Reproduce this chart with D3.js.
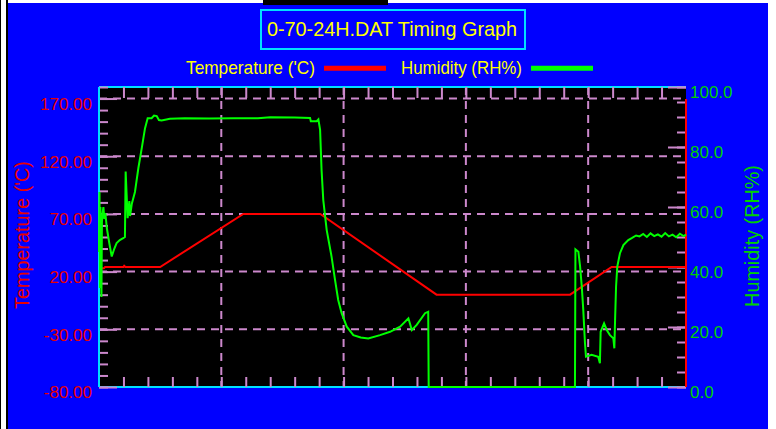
<!DOCTYPE html>
<html>
<head>
<meta charset="utf-8">
<script src="https://cdn.jsdelivr.net/npm/d3@7"></script>
<style>
	body { margin: 0; background: #fff; }
	svg { display: block; }
	text { font-family: "Liberation Sans", Arial, sans-serif; }
</style>
</head>
<body>
<div id="chart"></div>
<script>

// temperature ('C), time in hours
var tempTime  = [0, 0.2, 0.25, 1.0, 1.03, 1.08, 2.5, 5.9, 9.05, 13.8, 19.26, 20.96, 24];
var tempValue = [23, 23, 24, 24, 25, 24, 24, 70, 70, 0, 0, 24, 24];

// humidity (RH%)
var humTime = [0, 0.02, 0.04, 0.06, 0.08, 0.10, 0.12, 0.15, 0.18, 0.22, 0.26, 0.32, 0.42, 0.52, 0.62, 0.72, 0.85, 0.99,
	1.06, 1.09, 1.13, 1.17, 1.24, 1.27, 1.34, 1.47, 1.61, 1.75, 1.88, 1.99, 2.15, 2.25, 2.36, 2.45, 2.56, 2.9, 3.5,
	4.5, 5.5, 6.5, 7.0, 8.0, 8.63, 8.66, 8.9, 8.97, 9.04, 9.1, 9.17, 9.31, 9.51, 9.65, 9.78, 9.92, 10.13, 10.4, 10.7,
	11.01, 11.49, 11.9, 12.31, 12.65, 12.79, 12.99, 13.33, 13.46, 13.48, 19.46, 19.48, 19.6, 19.67, 19.74, 19.8,
	19.87, 19.91, 20.14, 20.41, 20.48, 20.51, 20.65, 20.76, 20.89, 21.03, 21.07, 21.1, 21.14, 21.19, 21.3, 21.44,
	21.64, 21.78, 21.96, 22.1, 22.25, 22.4, 22.55, 22.7, 22.85, 23.0, 23.15, 23.3, 23.45, 23.6, 23.75, 23.9, 24];
var humValue = [45, 65, 33, 60, 38, 30, 55, 58, 60, 56, 58, 53, 48, 43.5, 46, 48, 49, 49.6,
	50, 71.8, 64, 56.3, 62, 57, 61, 65, 73, 79.7, 86.2, 89.6, 89.6, 90.5, 90.3, 89, 88.8, 89.4, 89.6,
	89.5, 89.6, 89.6, 89.9, 89.8, 89.7, 88.6, 88.6, 89.2, 85.7, 72.3, 62.3, 52.3, 43.4, 35.7, 29, 24.6, 20.1, 17.3, 16.5,
	16.2, 17.3, 18.4, 20.1, 22.9, 19, 20.7, 24.6, 25.1, 0, 0, 45.9, 45.1, 40.1, 33.4, 25.7,
	14.6, 10.1, 10.7, 10.1, 7.9, 18.4, 21.2, 19, 17.3, 16.2, 12.9, 22.3, 33.4, 40.1, 44.6, 47.3,
	49, 49.6, 50.5, 50.2, 51, 50, 51.2, 50.3, 50.9, 50.1, 51.3, 50.2, 50.8, 49.9, 51.1, 50.3, 50.8];

// tick labels
var tempTicks = [-80, -30, 20, 70, 120, 170];
var humTicks = [0, 20, 40, 60, 80, 100];
var hourTicks = [5, 10, 15, 20];

// magic numbers
var width = 776, height = 429;
var plot = {left: 99, right: 686, top: 87, bottom: 387};

var pink = "#cc88cc", cyan = "#00e0ff", yellow = "#ffff00";

var svg = d3.select("#chart").append("svg")
		.attr("width", width)
		.attr("height", height);

// window frame
svg.append("rect").attr("x", 0).attr("y", 0).attr("width", 1).attr("height", height).attr("fill", "#000");
svg.append("rect").attr("x", 6).attr("y", 0).attr("width", 2).attr("height", height).attr("fill", "#000");
svg.append("rect")
		.attr("x", 8).attr("y", 3)
		.attr("width", 760).attr("height", height - 3)
		.attr("fill", "#0000ff");
svg.append("rect").attr("x", 263).attr("y", 0).attr("width", 125).attr("height", 5).attr("fill", "#000");

// scales
var x = d3.scaleLinear().domain([0, 24]).range([plot.left, plot.right]);
var yTemp = d3.scaleLinear().domain([-80, 180]).range([plot.bottom, plot.top]);
var yHum = d3.scaleLinear().domain([0, 100]).range([plot.bottom, plot.top]);

// plot area
svg.append("rect")
		.attr("x", plot.left).attr("y", plot.top)
		.attr("width", plot.right - plot.left)
		.attr("height", plot.bottom - plot.top)
		.attr("fill", "#000");

// dashed grid
svg.selectAll(".hgrid")
		.data(tempTicks.filter(function(d){ return d > -80; }))
	.enter().append("line")
		.attr("class", "hgrid")
		.attr("x1", plot.left).attr("x2", plot.right)
		.attr("y1", function(d){ return yTemp(d); })
		.attr("y2", function(d){ return yTemp(d); })
		.attr("stroke", pink).attr("stroke-width", 2)
		.attr("stroke-dasharray", "8,6");

svg.selectAll(".vgrid")
		.data(hourTicks)
	.enter().append("line")
		.attr("class", "vgrid")
		.attr("x1", function(d){ return x(d); })
		.attr("x2", function(d){ return x(d); })
		.attr("y1", plot.top).attr("y2", plot.bottom)
		.attr("stroke", pink).attr("stroke-width", 2)
		.attr("stroke-dasharray", "8,6");

// top and bottom spines
svg.append("line")
		.attr("x1", plot.left).attr("x2", plot.right)
		.attr("y1", plot.top).attr("y2", plot.top)
		.attr("stroke", cyan).attr("stroke-width", 2);
svg.append("line")
		.attr("x1", plot.left).attr("x2", plot.right)
		.attr("y1", plot.bottom).attr("y2", plot.bottom)
		.attr("stroke", cyan).attr("stroke-width", 2);

// tick marks, all pointing inward
function ticks(axis, tx, ty){
	var g = svg.append("g")
			.attr("transform", "translate(" + tx + "," + ty + ")")
			.attr("color", pink)
			.call(axis);
	g.select(".domain").remove();
	g.selectAll("line").attr("stroke-width", 2);
	return g;
}

ticks(d3.axisRight(yTemp).tickValues(d3.range(-80, 181, 10)).tickSize(9).tickFormat(""), plot.left, 0);
ticks(d3.axisRight(yTemp).tickValues(tempTicks).tickSize(18).tickFormat(""), plot.left, 0);
ticks(d3.axisLeft(yHum).tickValues(d3.range(0, 101, 5)).tickSize(9).tickFormat(""), plot.right, 0);
ticks(d3.axisLeft(yHum).tickValues(humTicks).tickSize(18).tickFormat(""), plot.right, 0);
ticks(d3.axisTop(x).tickValues(d3.range(1, 24)).tickSize(10).tickFormat(""), 0, plot.bottom);
ticks(d3.axisBottom(x).tickValues(d3.range(1, 24)).tickSize(11).tickFormat(""), 0, plot.top);

// left and right spines
svg.append("line")
		.attr("x1", plot.left).attr("x2", plot.left)
		.attr("y1", plot.top).attr("y2", plot.bottom)
		.attr("stroke", cyan).attr("stroke-width", 2);
svg.append("line")
		.attr("x1", plot.right).attr("x2", plot.right)
		.attr("y1", plot.top + 12).attr("y2", plot.bottom)
		.attr("stroke", "#ff0000").attr("stroke-width", 2);

// tick labels
var leftLabels = svg.append("g")
		.attr("transform", "translate(" + plot.left + ",5.5)")
		.call(d3.axisLeft(yTemp).tickValues(tempTicks).tickSize(0).tickPadding(7)
			.tickFormat(function(d){ return d.toFixed(2); }));
leftLabels.select(".domain").remove();
leftLabels.selectAll("text")
		.attr("fill", "#e80000")
		.style("font-size", "17px")
		.style("font-family", "'Liberation Sans', Arial, sans-serif");

var rightLabels = svg.append("g")
		.attr("transform", "translate(" + plot.right + ",5.5)")
		.call(d3.axisRight(yHum).tickValues(humTicks).tickSize(0).tickPadding(4)
			.tickFormat(function(d){ return d.toFixed(1); }));
rightLabels.select(".domain").remove();
rightLabels.selectAll("text")
		.attr("fill", "#00d000")
		.style("font-size", "17px")
		.style("font-family", "'Liberation Sans', Arial, sans-serif");

// axis titles
svg.append("text")
		.attr("transform", "translate(29,235) rotate(-90)")
		.attr("text-anchor", "middle")
		.attr("fill", "#e80000")
		.style("font-size", "19.8px")
		.text("Temperature ('C)");

svg.append("text")
		.attr("transform", "translate(759,236) rotate(-90)")
		.attr("text-anchor", "middle")
		.attr("fill", "#00d000")
		.style("font-size", "19.8px")
		.text("Humidity (RH%)");

// title
svg.append("rect")
		.attr("x", 261).attr("y", 10)
		.attr("width", 264).attr("height", 39)
		.attr("fill", "none")
		.attr("stroke", cyan).attr("stroke-width", 2);
svg.append("text")
		.attr("x", 267).attr("y", 36)
		.attr("fill", yellow)
		.attr("textLength", 250)
		.attr("lengthAdjust", "spacingAndGlyphs")
		.style("font-size", "21px")
		.text("0-70-24H.DAT Timing Graph");

// legend
var legend = [
	{name: "Temperature ('C)", color: "#ff0000", x: 186, w: 129, line: 324},
	{name: "Humidity (RH%)", color: "#00ff00", x: 401, w: 121, line: 531}
];

svg.selectAll(".legend-text")
		.data(legend)
	.enter().append("text")
		.attr("class", "legend-text")
		.attr("x", function(d){ return d.x; })
		.attr("y", 73.5)
		.attr("fill", yellow)
		.attr("textLength", function(d){ return d.w; })
		.attr("lengthAdjust", "spacingAndGlyphs")
		.style("font-size", "19px")
		.text(function(d){ return d.name; });

svg.selectAll(".legend-line")
		.data(legend)
	.enter().append("line")
		.attr("class", "legend-line")
		.attr("x1", function(d){ return d.line; })
		.attr("x2", function(d){ return d.line + 62; })
		.attr("y1", 68.3).attr("y2", 68.3)
		.attr("stroke", function(d){ return d.color; })
		.attr("stroke-width", 5);

// series
var tempLine = d3.line()
		.x(function(d){ return x(d[0]); })
		.y(function(d){ return yTemp(d[1]); });

var humLine = d3.line()
		.x(function(d){ return x(d[0]); })
		.y(function(d){ return yHum(d[1]); });

svg.append("path")
		.datum(d3.zip(tempTime, tempValue))
		.attr("d", tempLine)
		.attr("fill", "none")
		.attr("stroke", "#ff0000")
		.attr("stroke-width", 2);

svg.append("path")
		.datum(d3.zip(humTime, humValue))
		.attr("d", humLine)
		.attr("fill", "none")
		.attr("stroke", "#00ff00")
		.attr("stroke-width", 2);

</script>
</body>
</html>
